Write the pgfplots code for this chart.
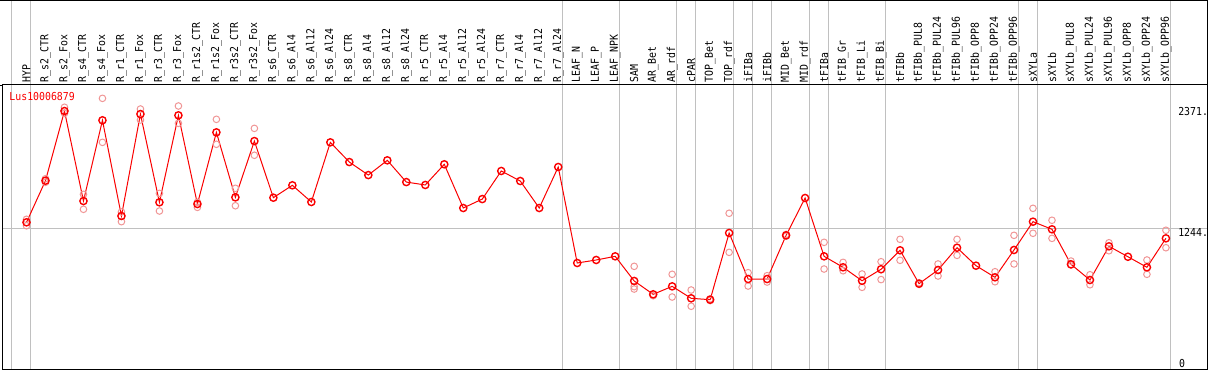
\documentclass[border=0pt]{standalone}
\usepackage{fontspec}
\setmonofont[FakeStretch=0.9]{DejaVu Sans Mono}
\usepackage{pgfplots}
\pgfplotsset{compat=1.18}
\usepackage{pgfplotstable}
\definecolor{gridgray}{RGB}{192,192,192}
\definecolor{mainred}{RGB}{250,0,0}
\definecolor{reppink}{RGB}{240,150,150}

\pgfplotstableread{
x y
1 1297
2 1684
3 2331
4 1495
5 2245
6 1356
7 2303
8 1483
9 2291
10 1467
11 2133
12 1529
13 2052
14 1526
15 1641
16 1486
17 2040
18 1857
19 1736
20 1873
21 1671
22 1644
23 1836
24 1430
25 1513
26 1774
27 1681
28 1430
29 1811
30 919
31 947
32 981
33 752
34 628
35 702
36 591
37 578
38 1198
39 770
40 770
41 1176
42 1523
43 981
44 879
45 754
46 861
47 1037
48 727
49 854
50 1061
51 894
52 786
53 1040
54 1303
55 1232
56 907
57 761
58 1074
59 977
60 879
61 1148
}\maindata

\pgfplotstableread{
x y
1 1325
1 1265
2 1702
2 1669
3 2366
3 2310
4 1557
4 1418
5 2449
5 2040
6 1393
6 1303
7 2350
7 2248
8 1566
8 1402
9 2378
9 2217
10 1483
10 1436
11 2254
11 2022
12 1613
12 1451
13 2170
13 1920
33 888
33 699
33 677
34 615
35 814
35 603
36 668
36 517
37 570
37 586
38 1381
38 1018
39 829
39 705
40 801
40 742
41 1185
41 1168
43 1111
43 863
44 925
44 847
45 817
45 693
46 931
46 765
47 1139
47 944
48 735
48 720
49 910
49 798
50 1139
50 990
52 838
52 745
53 1176
53 910
54 1427
54 1195
55 1316
55 1148
56 937
56 900
57 810
57 717
58 1107
58 1033
60 947
60 814
61 1223
61 1061
}\repdata

\begin{document}
\begin{tikzpicture}[x=1bp,y=1bp]
\useasboundingbox (-2,-1) rectangle (1207,369);
\begin{axis}[
  at={(0,0)}, anchor=south west,
  scale only axis, width=1205.5bp, height=284bp,
  xmin=-0.29, xmax=63.19, ymin=-66, ymax=2573,
  axis line style={black, line width=1bp},
  axis on top,
  clip=false,
  xtick={1,...,61},
  xticklabels={HYP, R\_s2\_CTR, R\_s2\_Fox, R\_s4\_CTR, R\_s4\_Fox, R\_r1\_CTR, R\_r1\_Fox, R\_r3\_CTR, R\_r3\_Fox, R\_r1s2\_CTR, R\_r1s2\_Fox, R\_r3s2\_CTR, R\_r3s2\_Fox, R\_s6\_CTR, R\_s6\_Al4, R\_s6\_Al12, R\_s6\_Al24, R\_s8\_CTR, R\_s8\_Al4, R\_s8\_Al12, R\_s8\_Al24, R\_r5\_CTR, R\_r5\_Al4, R\_r5\_Al12, R\_r5\_Al24, R\_r7\_CTR, R\_r7\_Al4, R\_r7\_Al12, R\_r7\_Al24, LEAF\_N, LEAF\_P, LEAF\_NPK, SAM, AR\_Bet, AR\_rdf, cPAR, TOP\_Bet, TOP\_rdf, iFIBa, iFIBb, MID\_Bet, MID\_rdf, tFIBa, tFIB\_Gr, tFIB\_Li, tFIB\_Bi, tFIBb, tFIBb\_PUL8, tFIBb\_PUL24, tFIBb\_PUL96, tFIBb\_OPP8, tFIBb\_OPP24, tFIBb\_OPP96, sXYLa, sXYLb, sXYLb\_PUL8, sXYLb\_PUL24, sXYLb\_PUL96, sXYLb\_OPP8, sXYLb\_OPP24, sXYLb\_OPP96},
  xticklabel pos=upper,
  major tick length=0pt,
  tick style={draw=none},
  xticklabel style={rotate=90, anchor=west, inner sep=0pt, font=\ttfamily\fontsize{11}{11}\selectfont},
  xticklabel shift=2.5bp,
  ytick=\empty,
]
\pgfplotsinvokeforeach{0.23,1.23,29.23,32.23,35.23,36.23,38.23,39.23,40.23,42.23,43.23,46.23,53.23,54.23,61.23}{
  \draw[gridgray, line width=1bp] (axis cs:#1,-66) -- (axis cs:#1,3363);
}
\draw[gridgray, line width=1bp] (axis cs:-0.29,1244) -- (axis cs:63.19,1244);

\addplot[only marks, mark=o, mark size=3.3bp, color=reppink, mark options={line width=1bp}] table {\repdata};
\addplot[mainred, line width=1bp, mark=o, mark size=3.6bp, mark options={line width=1.4bp}] table {\maindata};

\node[anchor=north west, inner sep=0pt, font=\ttfamily\fontsize{11}{11}\selectfont] at (axis cs:61.64,2371) {2371.};
\node[anchor=north west, inner sep=0pt, font=\ttfamily\fontsize{11}{11}\selectfont] at (axis cs:61.64,1244) {1244.};
\node[anchor=north west, inner sep=0pt, font=\ttfamily\fontsize{11}{11}\selectfont] at (axis cs:61.69,27) {0};
\node[anchor=west, inner sep=0pt, text=mainred, font=\ttfamily\fontsize{11}{11}\selectfont] at (axis cs:0.094,2464) {Lus10006879};
\end{axis}
\draw[black, line width=1bp] (-2,368.5) -- (1205.5,368.5) -- (1205.5,284);
\draw[black, line width=1bp] (-2,284) -- (0.5,284);
\end{tikzpicture}
\end{document}
